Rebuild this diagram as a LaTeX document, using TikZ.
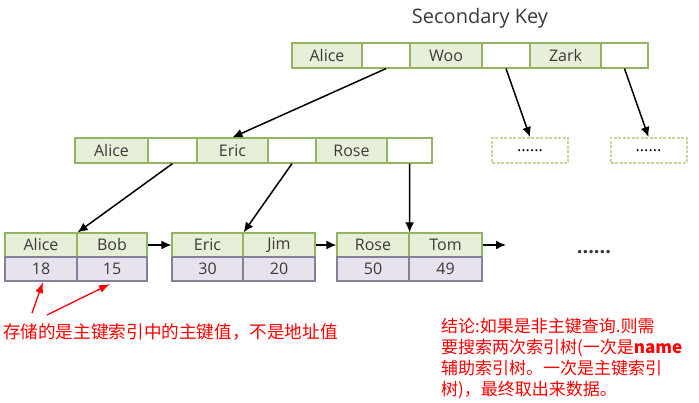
\documentclass[tikz,border=0pt]{standalone}
\usepackage{fontspec}
\setsansfont{Open Sans}
\newfontfamily\cjk{Noto Sans CJK SC}
\usetikzlibrary{arrows.meta}

\definecolor{keygreen}{HTML}{E8EFD9}
\definecolor{linegreen}{HTML}{93B461}
\definecolor{valfill}{HTML}{E7E2EC}
\definecolor{valline}{HTML}{85809A}
\definecolor{dotline}{HTML}{C5D89A}
\definecolor{labelgray}{HTML}{3A3A3A}

\begin{document}
\begin{tikzpicture}[x=1pt, y=1pt,
    % Define the cell styles
    cell/.style={draw, line width=1.2pt, minimum height=25pt, inner sep=0pt,
        font=\sffamily\fontsize{16}{16}\selectfont, text=labelgray},
    keycell/.style={cell, draw=linegreen, fill=keygreen},
    ptrcell/.style={cell, draw=linegreen, fill=white},
    valcell/.style={cell, draw=valline, fill=valfill, minimum height=24pt},
    dotbox/.style={draw=dotline, line width=2pt, dash pattern=on 3pt off 1.5pt,
        minimum width=76pt, minimum height=25pt,
        font=\sffamily\fontsize{16}{16}\selectfont},
    % Define the arrow styles
    link/.style={-{Latex[length=10pt,width=9pt]}, line width=1.5pt},
    redlink/.style={-{Latex[length=11pt,width=8pt]}, line width=1.3pt, red},
    note/.style={red, inner sep=0pt, font=\cjk\fontsize{17}{21}\selectfont}
]
\useasboundingbox (0,0) rectangle (699,-403);

% Title
\node[font=\sffamily\fontsize{20}{20}\selectfont, text=labelgray] (title) at (480,-18) {Secondary Key};

% Root node
\node[keycell, minimum width=70pt] (t1) at (327,-55.5) {Alice};
\node[ptrcell, minimum width=48pt] (t2) at (386,-55.5) {};
\node[keycell, minimum width=72pt] (t3) at (446,-55.5) {Woo};
\node[ptrcell, minimum width=48pt] (t4) at (506,-55.5) {};
\node[keycell, minimum width=71pt] (t5) at (565.5,-55.5) {Zark};
\node[ptrcell, minimum width=47pt] (t6) at (624.5,-55.5) {};

% Middle node
\node[keycell, minimum width=73pt] (m1) at (111.5,-150.5) {Alice};
\node[ptrcell, minimum width=49pt] (m2) at (172.5,-150.5) {};
\node[keycell, minimum width=71pt] (m3) at (232.5,-150.5) {Eric};
\node[ptrcell, minimum width=48pt] (m4) at (292,-150.5) {};
\node[keycell, minimum width=71pt] (m5) at (351.5,-150.5) {Rose};
\node[ptrcell, minimum width=45pt] (m6) at (409.5,-150.5) {};

% Placeholder nodes
\node[dotbox] (d1) at (530,-150.5) {......};
\node[dotbox] (d2) at (648.5,-150.5) {......};

% Leaf nodes
\node[keycell, minimum width=72pt, minimum height=24pt] (l1a) at (41,-245) {Alice};
\node[keycell, minimum width=70pt, minimum height=24pt] (l1b) at (112,-245) {Bob};
\node[valcell, minimum width=72pt] (v1a) at (41,-269) {18};
\node[valcell, minimum width=70pt] (v1b) at (112,-269) {15};

\node[keycell, minimum width=71pt, minimum height=24pt] (l2a) at (207.5,-245) {Eric};
\node[keycell, minimum width=72pt, minimum height=24pt] (l2b) at (279,-245) {Jim};
\node[valcell, minimum width=71pt] (v2a) at (207.5,-269) {30};
\node[valcell, minimum width=72pt] (v2b) at (279,-269) {20};

\node[keycell, minimum width=72pt, minimum height=24pt] (l3a) at (373,-245) {Rose};
\node[keycell, minimum width=73pt, minimum height=24pt] (l3b) at (445.5,-245) {Tom};
\node[valcell, minimum width=72pt] (v3a) at (373,-269) {50};
\node[valcell, minimum width=73pt] (v3b) at (445.5,-269) {49};

\node[font=\sffamily\bfseries\fontsize{20}{20}\selectfont, text=labelgray] (more) at (594,-252) {......};

% Draw the tree links
\draw[link] (t2.south) -- (m3.north);
\draw[link] (t4.south) -- (d1.north);
\draw[link] (t6.south) -- (d2.north);
\draw[link] (m2.south) -- (l1a.north east);
\draw[link] (m4.south) -- (l2a.north east);
\draw[link] (m6.south) -- (l3a.north east);

% Draw the leaf chain
\coordinate (next) at (506,-245);
\draw[link] (l1b.east) -- (l2a.west);
\draw[link] (l2b.east) -- (l3a.west);
\draw[link] (l3b.east) -- (next);

% Notes
\node[note, anchor=west, font=\cjk\fontsize{17.6}{21}\selectfont] (keynote) at (3,-332) {存储的是主键索引中的主键值，不是地址值};
\coordinate (tailA) at (32,-313);
\coordinate (tailB) at (47,-315);
\coordinate (tipA) at (43,-282);
\coordinate (tipB) at (110,-284);
\draw[redlink] (tailA) -- (tipA);
\draw[redlink] (tailB) -- (tipB);

\node[note, anchor=north west, align=left] (result) at (441,-318)
    {结论:如果是非主键查询.则需\\要搜索两次索引树(一次是\textbf{name}\\辅助索引树。一次是主键索引\\树)，最终取出来数据。};

\end{tikzpicture}
\end{document}
